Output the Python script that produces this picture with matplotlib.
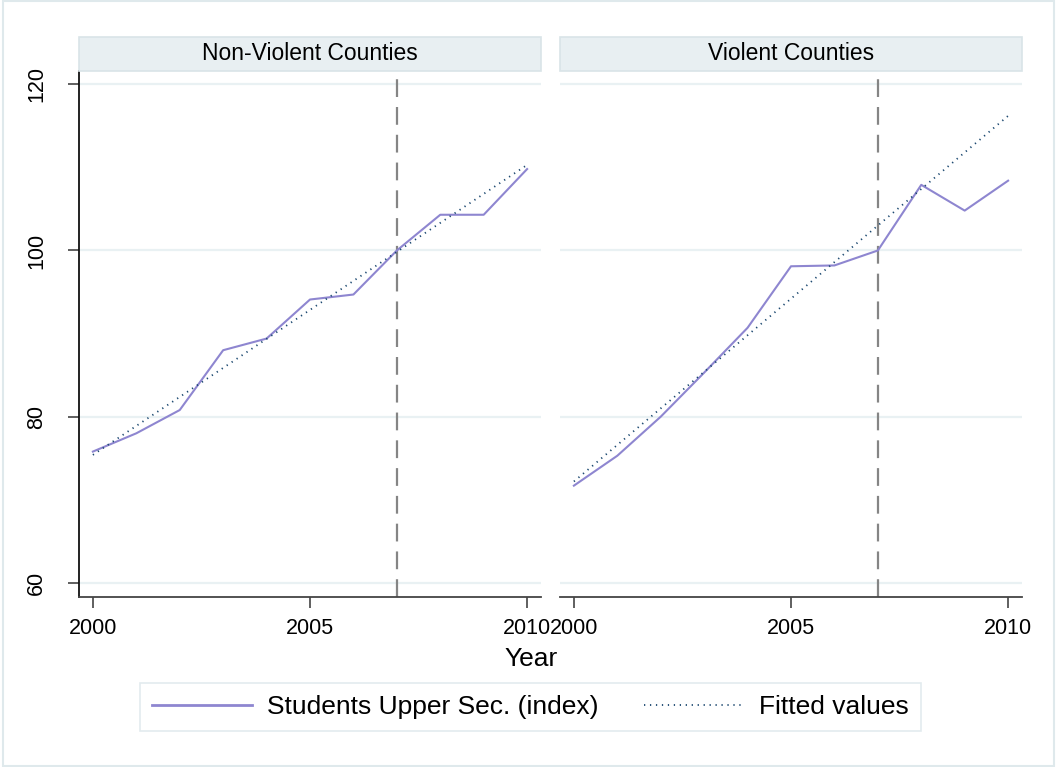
import matplotlib
matplotlib.use("Agg")
import matplotlib.pyplot as plt
from matplotlib.patches import Rectangle
from matplotlib.lines import Line2D

plt.rcParams['font.family'] = ['Liberation Sans', 'DejaVu Sans']

years = [2000, 2001, 2002, 2003, 2004, 2005, 2006, 2007, 2008, 2009, 2010]
nonviolent = [75.8, 78.0, 80.8, 88.0, 89.4, 94.1, 94.7, 100.0, 104.3, 104.3, 109.8]
violent = [71.7, 75.3, 80.0, 85.3, 90.7, 98.1, 98.2, 100.0, 107.9, 104.8, 108.4]
fit_years = [2000, 2010]
fit_nonviolent = [75.4, 110.3]
fit_violent = [72.2, 116.2]
panel_titles = ["Non-Violent Counties", "Violent Counties"]
yticks = [60, 80, 100, 120]
xticks = [2000, 2005, 2010]
event_year = 2007
legend_labels = ["Students Upper Sec. (index)", "Fitted values"]

W, H = 1057, 767
fig = plt.figure(figsize=(W / 100, H / 100), dpi=100)
fig.patch.set_facecolor('white')

def fx(px):
    return px / W

def fy(py):
    return 1 - py / H

purple = '#8e86d0'
navy = '#1a476f'
grid_c = '#e9f1f3'
strip_face = '#e8eff2'
strip_edge = '#d9e4e8'

# outer frame
fig.patches.append(Rectangle((fx(3), fy(766)), fx(1054) - fx(3), fy(1) - fy(766),
                             transform=fig.transFigure, fill=False,
                             edgecolor='#dfe9ec', lw=1.5, zorder=0))

panels = [(79, 541, nonviolent, fit_nonviolent), (560, 1022, violent, fit_violent)]
top, bottom = 71, 597
for i, (x0, x1, vals, fit) in enumerate(panels):
    ax = fig.add_axes([fx(x0), fy(bottom), fx(x1) - fx(x0), fy(top) - fy(bottom)])
    ax.set_xlim(1999.68, 2010.32)
    ax.set_ylim(58.3, 121.6)
    for yv in yticks:
        ax.axhline(yv, color=grid_c, lw=1.6, zorder=1)
    ax.axvline(event_year, color='#858585', lw=1.6, dashes=(8, 4.5), zorder=2)
    ax.plot(years, vals, color=purple, lw=1.5, zorder=3)
    ax.plot(fit_years, fit, color=navy, lw=1.3, linestyle=(0, (0.7, 2.6)), zorder=4)
    for s in ['top', 'right']:
        ax.spines[s].set_visible(False)
    ax.spines['bottom'].set_color('#444444')
    ax.spines['bottom'].set_linewidth(1.3)
    ax.set_xticks(xticks)
    ax.set_xticklabels([str(x) for x in xticks], fontsize=15.5)
    ax.tick_params(axis='x', length=8, width=1.2, color='#444444', pad=7)
    if i == 0:
        ax.spines['left'].set_color('#111111')
        ax.spines['left'].set_linewidth(1.3)
        ax.set_yticks(yticks)
        ax.set_yticklabels([str(y) for y in yticks], fontsize=15.5, rotation=90, va='center')
        ax.tick_params(axis='y', length=8, width=1.2, color='#444444', pad=15)
    else:
        ax.spines['left'].set_visible(False)
        ax.set_yticks([])
    # strip
    fig.patches.append(Rectangle((fx(x0), fy(71)), fx(x1) - fx(x0), fy(37) - fy(71),
                                 transform=fig.transFigure, facecolor=strip_face,
                                 edgecolor=strip_edge, lw=1.2, zorder=1))
    fig.text((fx(x0) + fx(x1)) / 2, fy(53), panel_titles[i], ha='center', va='center',
             fontsize=16.5)

fig.text(fx(531), fy(659), "Year", ha='center', va='center', fontsize=19)

handles = [Line2D([], [], color=purple, lw=2.0),
           Line2D([], [], color=navy, lw=1.3, linestyle=(0, (0.7, 2.6)))]
leg = fig.legend(handles, legend_labels, loc='center',
                 bbox_to_anchor=(fx(530.5), fy(707)), ncol=2, fontsize=19,
                 frameon=True, fancybox=False, handlelength=3.8, handletextpad=0.55,
                 columnspacing=1.75, borderpad=0.45)
leg.get_frame().set_edgecolor('#dce6ea')
leg.get_frame().set_linewidth(1.2)

fig.savefig("out.png", dpi=100)
